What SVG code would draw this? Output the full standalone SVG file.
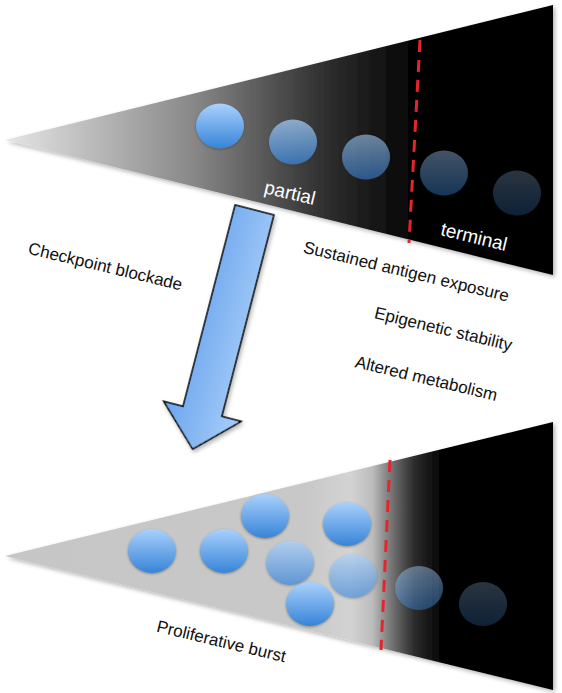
<svg xmlns="http://www.w3.org/2000/svg" width="562" height="693" viewBox="0 0 562 693">
<defs>
  <linearGradient id="gTop" gradientUnits="userSpaceOnUse" x1="5" y1="0" x2="553" y2="0">
    <stop offset="0" stop-color="#e6e6e6"/>
    <stop offset="0.35" stop-color="#868686"/>
    <stop offset="0.58" stop-color="#303030"/>
    <stop offset="0.76" stop-color="#000"/>
    <stop offset="1" stop-color="#000"/>
  </linearGradient>
  <linearGradient id="gBot" gradientUnits="userSpaceOnUse" x1="5" y1="0" x2="553" y2="0">
    <stop offset="0" stop-color="#c6c6c6"/>
    <stop offset="0.55" stop-color="#c8c8c8"/>
    <stop offset="0.63" stop-color="#d3d3d3"/>
    <stop offset="0.67" stop-color="#bdbdbd"/>
    <stop offset="0.70" stop-color="#7e7e7e"/>
    <stop offset="0.745" stop-color="#2e2e2e"/>
    <stop offset="0.80" stop-color="#000"/>
    <stop offset="1" stop-color="#000"/>
  </linearGradient>
  <linearGradient id="gCell" x1="0" y1="0" x2="0" y2="1">
    <stop offset="0" stop-color="#a9d1fc"/>
    <stop offset="1" stop-color="#3784d8"/>
  </linearGradient>
  <linearGradient id="gArrow" gradientUnits="userSpaceOnUse" x1="-40" y1="0" x2="40" y2="0">
    <stop offset="0" stop-color="#6aa4ee"/>
    <stop offset="1" stop-color="#a8cef8"/>
  </linearGradient>
  <filter id="shadow" x="-10%" y="-10%" width="120%" height="120%">
    <feDropShadow dx="2" dy="2" stdDeviation="2" flood-color="#000" flood-opacity="0.3"/>
  </filter>
  <filter id="cshadow" x="-20%" y="-20%" width="140%" height="140%">
    <feDropShadow dx="0" dy="1" stdDeviation="1" flood-color="#3a2a10" flood-opacity="0.45"/>
  </filter>
  <style>
    .dash { stroke: #e3262c; stroke-width: 3; stroke-dasharray: 12 8; fill: none; }
    .cell { fill: url(#gCell); filter: url(#cshadow); }
    .lbl { font-family: "Liberation Sans", Arial, sans-serif; font-size: 17px; fill: #111; text-anchor: middle; }
    .wlbl { font-family: "Liberation Sans", Arial, sans-serif; font-size: 19px; fill: #fff; text-anchor: middle; }
  </style>
</defs>
<rect width="562" height="693" fill="#fff"/>

<g id="wedge-top">
  <polygon points="5,140 553,5 553,275" fill="url(#gTop)" filter="url(#shadow)"/>
  <line class="dash" x1="420" y1="40" x2="409" y2="243"/>
  <g id="cells-top">
    <ellipse class="cell" cx="220" cy="126" rx="24" ry="22.5"/>
    <ellipse class="cell" cx="293" cy="142" rx="24" ry="22.5" opacity="0.72"/>
    <ellipse class="cell" cx="366" cy="157" rx="24" ry="22.5" opacity="0.58"/>
    <ellipse class="cell" cx="444" cy="173" rx="24" ry="22.5" opacity="0.4"/>
    <ellipse class="cell" cx="517" cy="193" rx="24" ry="22.5" opacity="0.25"/>
  </g>
  <text class="wlbl" x="288.5" y="199" transform="rotate(13.5 288.5 199)">partial</text>
  <text class="wlbl" x="472.5" y="243" transform="rotate(13.5 472.5 243)">terminal</text>
</g>

<g id="wedge-bottom">
  <polygon points="5,556 553,422 553,690" fill="url(#gBot)" filter="url(#shadow)"/>
  <line class="dash" x1="390" y1="460" x2="381" y2="650"/>
  <g id="cells-bottom">
    <ellipse class="cell" cx="152" cy="551" rx="24" ry="22"/>
    <ellipse class="cell" cx="224" cy="551" rx="24" ry="22"/>
    <ellipse class="cell" cx="265" cy="516" rx="24" ry="22"/>
    <ellipse class="cell" cx="347" cy="524" rx="24" ry="22"/>
    <ellipse class="cell" cx="290" cy="563" rx="24" ry="22" opacity="0.72"/>
    <ellipse class="cell" cx="353" cy="576" rx="24" ry="22" opacity="0.62"/>
    <ellipse class="cell" cx="310" cy="604" rx="24" ry="22"/>
    <ellipse class="cell" cx="419" cy="588" rx="24" ry="22" opacity="0.45"/>
    <ellipse class="cell" cx="483" cy="604" rx="24" ry="22" opacity="0.25"/>
  </g>
  <text class="lbl" x="220" y="647" transform="rotate(13.5 220 647)">Proliferative burst</text>
</g>

<g id="connectors">
  <path id="arrow" d="M -20,0 L 20,0 L 20,208 L 40,208 L 0,247 L -40,208 L -20,208 Z" transform="translate(254.5 210) rotate(14.5)" fill="url(#gArrow)" stroke="#000" stroke-width="1.5" stroke-linejoin="miter" filter="url(#shadow)"/>
</g>

<g id="labels">
  <text class="lbl" x="104" y="272" transform="rotate(13.5 104 272)">Checkpoint blockade</text>
  <text class="lbl" x="405" y="277" transform="rotate(13.5 405 277)">Sustained antigen exposure</text>
  <text class="lbl" x="442" y="334.5" transform="rotate(13.5 442 334.5)">Epigenetic stability</text>
  <text class="lbl" x="425" y="384" transform="rotate(13.5 425 384)">Altered metabolism</text>
</g>
</svg>
